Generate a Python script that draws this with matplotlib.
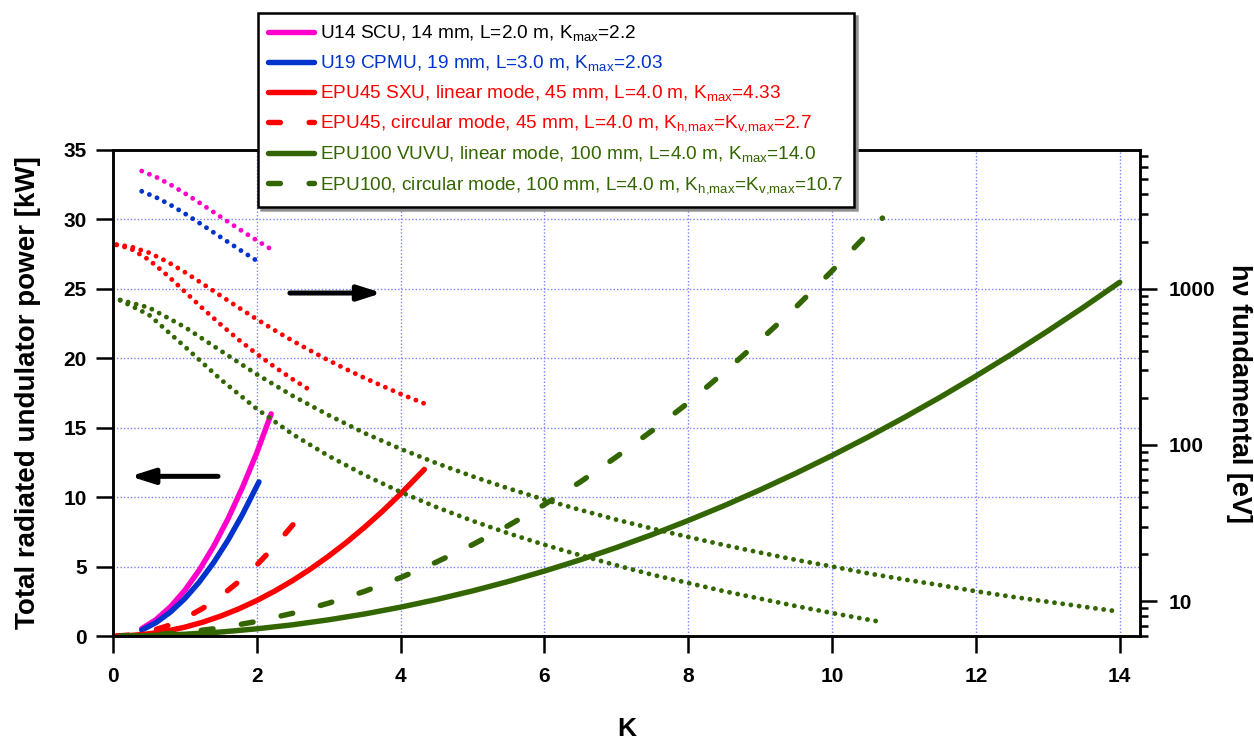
import matplotlib
matplotlib.use("Agg")
import matplotlib.pyplot as plt
from matplotlib.ticker import FixedLocator, FuncFormatter, LogLocator, NullFormatter

plt.rcParams['font.family'] = ['Liberation Sans', 'DejaVu Sans']

# U14 SCU (14 mm, L=2.0 m)
k_u14 = [0.4, 0.6, 0.8, 1.0, 1.2, 1.4, 1.6, 1.8, 2.0, 2.2]
p_u14 = [0.53, 1.19, 2.11, 3.3, 4.75, 6.47, 8.45, 10.7, 13.2, 16.0]
e_u14 = [5648, 5169, 4621, 4067, 3547, 3081, 2675, 2328, 2033, 1784]

# U19 CPMU (19 mm, L=3.0 m)
k_u19 = [0.4, 0.6, 0.8, 1.0, 1.2, 1.4, 1.6, 1.8, 2.0, 2.03]
p_u19 = [0.43, 0.97, 1.73, 2.7, 3.89, 5.29, 6.91, 8.75, 10.8, 11.1]
e_u19 = [4190, 3835, 3428, 3017, 2631, 2285, 1985, 1727, 1508, 1479]

# EPU45 linear
k_45 = [0.05, 0.25, 0.5, 0.75, 1.0, 1.25, 1.5, 1.75, 2.0, 2.25, 2.5, 2.75,
        3.0, 3.25, 3.5, 3.75, 4.0, 4.33]
p_45 = [0.0, 0.04, 0.16, 0.36, 0.64, 1.0, 1.44, 1.96, 2.56, 3.24, 4.0, 4.84,
        5.76, 6.76, 7.84, 9.0, 10.24, 12.0]
e_45 = [1908, 1852, 1698, 1491, 1273, 1072, 899, 755, 637, 541, 463, 400,
        347, 304, 268, 238, 212, 184]

# EPU45 circular
k_45c = [0.05, 0.25, 0.5, 0.75, 1.0, 1.25, 1.5, 1.75, 2.0, 2.25, 2.5, 2.7]
p_45c = [0.0, 0.08, 0.32, 0.72, 1.28, 2.0, 2.88, 3.92, 5.12, 6.48, 8.0, 9.33]
e_45c = [1905, 1798, 1528, 1222, 955, 745, 588, 470, 382, 315, 263, 230]

# EPU100 linear
k_100 = [0.1, 0.5, 1, 1.5, 2, 2.5, 3, 3.5, 4, 4.5, 5, 5.5, 6, 6.5, 7, 7.5, 8,
         8.5, 9, 9.5, 10, 10.5, 11, 11.5, 12, 12.5, 13, 13.5, 14]
p_100 = [0.0, 0.03, 0.13, 0.29, 0.52, 0.81, 1.17, 1.59, 2.08, 2.63, 3.25, 3.93,
         4.68, 5.49, 6.37, 7.31, 8.32, 9.39, 10.53, 11.73, 13.0, 14.33, 15.73,
         17.19, 18.72, 20.31, 21.97, 23.69, 25.48]
e_100 = [846, 756, 567, 400, 283, 206, 155, 119, 94.4, 76.4, 63.0, 52.7, 44.7,
         38.4, 33.3, 29.2, 25.8, 22.9, 20.5, 18.4, 16.7, 15.1, 13.8, 12.7, 11.6,
         10.7, 9.94, 9.23, 8.59]

# EPU100 circular
k_100c = [0.1, 0.5, 1, 1.5, 2, 2.5, 3, 3.5, 4, 4.5, 5, 5.5, 6, 6.5, 7, 7.5, 8,
          8.5, 9, 9.5, 10, 10.5, 10.7]
p_100c = [0.0, 0.07, 0.26, 0.59, 1.05, 1.64, 2.37, 3.22, 4.21, 5.33, 6.58, 7.96,
          9.47, 11.1, 12.9, 14.8, 16.8, 19.0, 21.3, 23.7, 26.3, 29.0, 30.1]
e_100c = [842, 680, 425, 262, 170, 117, 85, 64.2, 50, 40.0, 32.7, 27.2, 23.0,
          19.7, 17.0, 14.8, 13.1, 11.6, 10.4, 9.32, 8.42, 7.64, 7.36]

labels = [
    r'U14 SCU, 14 mm, L=2.0 m, K$_\mathregular{max}$=2.2',
    r'U19 CPMU, 19 mm, L=3.0 m, K$_\mathregular{max}$=2.03',
    r'EPU45 SXU, linear mode, 45 mm, L=4.0 m, K$_\mathregular{max}$=4.33',
    r'EPU45, circular mode, 45 mm, L=4.0 m, K$_\mathregular{h{,}max}$=K$_\mathregular{v{,}max}$=2.7',
    r'EPU100 VUVU, linear mode, 100 mm, L=4.0 m, K$_\mathregular{max}$=14.0',
    r'EPU100, circular mode, 100 mm, L=4.0 m, K$_\mathregular{h{,}max}$=K$_\mathregular{v{,}max}$=10.7',
]
text_colors = ['black', '#0033cc', '#ff0000', '#ff0000', '#336600', '#336600']

MAGENTA = '#ff00cc'
BLUE = '#0033cc'
RED = '#ff0000'
GREEN = '#336600'

SOLID = '-'
DASH = (0, (2.2, 5.3))
DOT = (0, (0.001, 1.7))

fig = plt.figure(figsize=(12.54, 7.40), dpi=100)
ax = fig.add_axes([0.0901, 0.1405, 0.8189, 0.6568])
ax2 = ax.twinx()

series = [
    (k_u14, p_u14, e_u14, MAGENTA, SOLID),
    (k_u19, p_u19, e_u19, BLUE, SOLID),
    (k_45, p_45, e_45, RED, SOLID),
    (k_45c, p_45c, e_45c, RED, DASH),
    (k_100, p_100, e_100, GREEN, SOLID),
    (k_100c, p_100c, e_100c, GREEN, DASH),
]

handles = []
for k, p, e, col, ls in series:
    h, = ax.plot(k, p, color=col, lw=3.9, linestyle=ls,
                 solid_capstyle='round', dash_capstyle='round')
    handles.append(h)
    ax2.plot(k, e, color=col, lw=3.5, linestyle=DOT, dash_capstyle='round')

ax.set_xlim(0, 14.28)
ax.set_ylim(0, 35)
ax.xaxis.set_major_locator(FixedLocator([0, 2, 4, 6, 8, 10, 12, 14]))
ax.yaxis.set_major_locator(FixedLocator([0, 5, 10, 15, 20, 25, 30, 35]))
ax.grid(True, color='#8080ff', linestyle=(0, (1, 1.5)), lw=1)
ax.set_axisbelow(True)

ax2.set_yscale('log')
ax2.set_ylim(6.0, 7700)
ax2.yaxis.set_major_locator(FixedLocator([10, 100, 1000]))
ax2.yaxis.set_minor_locator(LogLocator(base=10, subs=range(2, 10)))
ax2.yaxis.set_major_formatter(FuncFormatter(lambda v, pos: '%d' % v))
ax2.yaxis.set_minor_formatter(NullFormatter())

for a in (ax, ax2):
    for s in a.spines.values():
        s.set_linewidth(1.8)
ax.tick_params(axis='both', which='major', length=12, width=1.8, direction='out',
               labelsize=15)
ax.tick_params(axis='x', pad=10)
ax.tick_params(axis='y', pad=7)
ax2.tick_params(axis='y', which='major', length=12, width=1.8, direction='out',
                labelsize=15, pad=9)
ax2.tick_params(axis='y', which='minor', length=6, width=1.8, direction='out')
for lab in ax.get_xticklabels() + ax.get_yticklabels() + ax2.get_yticklabels():
    lab.set_fontweight('bold')

ax.set_xlabel('K', fontsize=19, fontweight='bold')
ax.xaxis.set_label_coords(0.5, -0.191)
ax.xaxis.label.set_va('center')
ax.set_ylabel('Total radiated undulator power [kW]', fontsize=20, fontweight='bold')
ax.yaxis.set_label_coords(-0.083, 0.5)
ax.yaxis.label.set_va('center')
ax2.set_ylabel('hν fundamental [eV]', fontsize=19.5, fontweight='bold', rotation=270)
ax2.yaxis.set_label_coords(1.097, 0.5)
ax2.yaxis.label.set_va('center')
ax2.yaxis.label.set_ha('center')

# arrows pointing to the axes the curves belong to
arrow = dict(arrowstyle='-|>,head_length=1.0,head_width=0.32', lw=3.6,
             color='black', mutation_scale=14, shrinkA=0, shrinkB=0,
             capstyle='round')
ax.annotate('', xy=(0.24, 11.5), xytext=(1.46, 11.5), arrowprops=arrow)
ax.annotate('', xy=(3.74, 24.7), xytext=(2.46, 24.7), arrowprops=arrow)

leg = fig.legend(handles, labels, loc='upper left',
                 bbox_to_anchor=(258 / 1254, 1 - 13 / 740),
                 prop={'size': 13.7},
                 frameon=True, fancybox=False, edgecolor='black', framealpha=1,
                 handlelength=2.4, handletextpad=0.3, labelspacing=0.52,
                 borderpad=0.55, borderaxespad=0,
                 shadow={'color': '0.55', 'alpha': 0.9})
leg.get_frame().set_linewidth(1.8)
for t, c in zip(leg.get_texts(), text_colors):
    t.set_color(c)

fig.savefig('out.png', dpi=100)
